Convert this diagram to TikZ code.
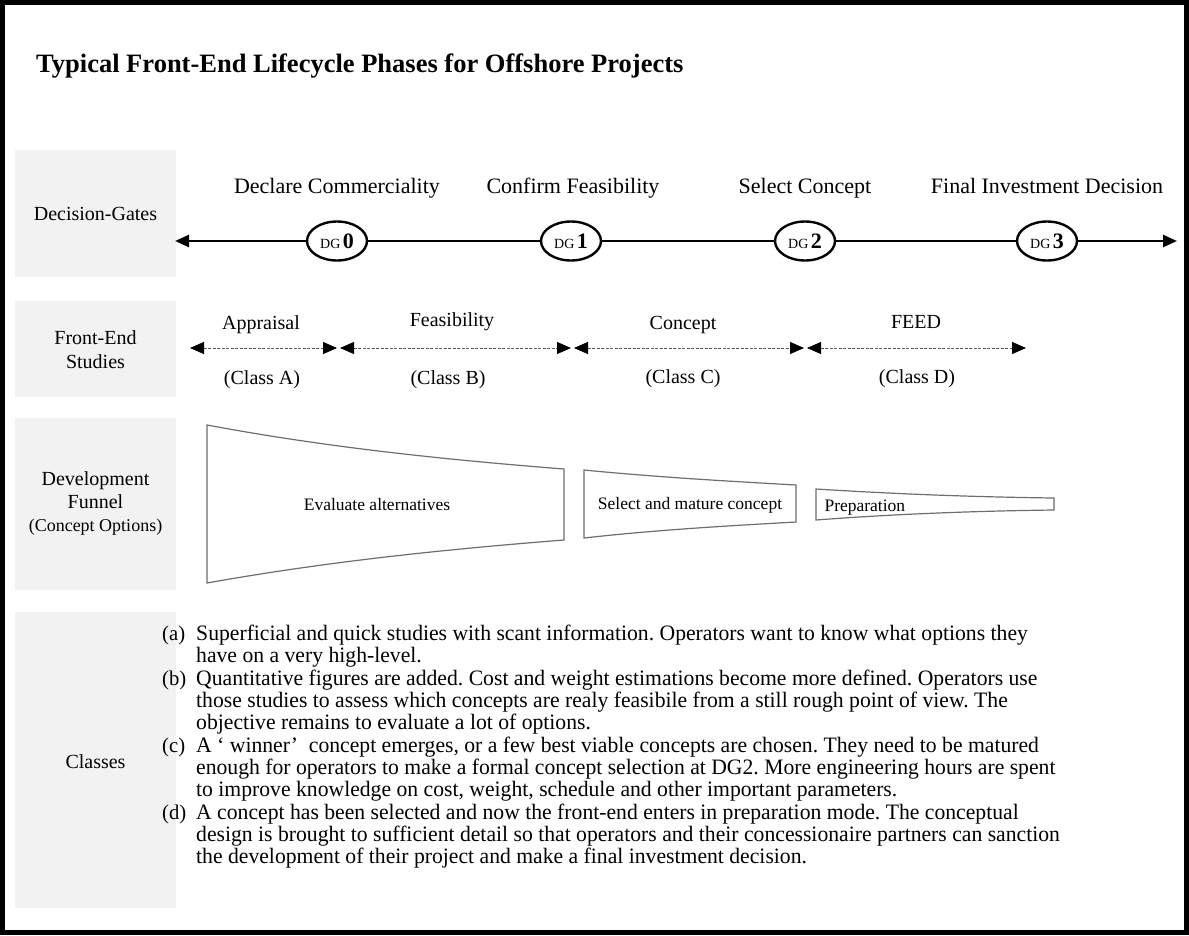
\documentclass[tikz,border=0pt]{standalone}
\usepackage{fontspec}
\setmainfont{Liberation Serif}
\newfontfamily\listfont[FakeStretch=0.985]{Liberation Serif}
\usetikzlibrary{arrows.meta,shapes.geometric}
\definecolor{boxgray}{HTML}{F2F2F2}
\definecolor{funnelgray}{HTML}{6E6E6E}
\definecolor{dashgray}{HTML}{555555}
\frenchspacing
\begin{document}
\begin{tikzpicture}[x=1pt,y=-1pt,
  rowbox/.style={fill=boxgray,draw=none},
  rowlabel/.style={font=\fontsize{20}{24}\selectfont,align=center},
  gate/.style={ellipse,draw,line width=2.4pt,fill=white,minimum width=60pt,minimum height=39pt,inner sep=0pt},
  gatetitle/.style={font=\fontsize{22}{26}\selectfont,anchor=base},
  gateline/.style={line width=2.6pt,{Triangle[length=14pt,width=12pt]}-{Triangle[length=14pt,width=12pt]}},
  studyline/.style={draw=dashgray,line width=0.9pt,dash pattern=on 3pt off 1.5pt,
    {Triangle[length=14pt,width=12pt,color=black]}-{Triangle[length=14pt,width=12pt,color=black]}},
  studylabel/.style={font=\fontsize{20}{24}\selectfont,anchor=base},
  funnel/.style={draw=funnelgray,line width=1.2pt,line join=miter},
  funneltext/.style={font=\fontsize{17.5}{21}\selectfont},
  itemlabel/.style={font=\listfont\fontsize{21}{22.3}\selectfont,anchor=base west,inner sep=0pt},
  itemtext/.style={font=\listfont\fontsize{22}{22.3}\selectfont,anchor=base west,inner sep=0pt}]
\useasboundingbox (0,0) rectangle (1189,935);
\fill[white] (0,0) rectangle (1189,935);
\draw[line width=5pt] (2.5,2.5) rectangle (1186.5,932.5);

% title
\node[anchor=base west,inner sep=0pt,font=\bfseries\fontsize{26.5}{30}\selectfont] (title) at (36,72)
  {Typical Front-End Lifecycle Phases for Offshore Projects};

% row header boxes
\fill[rowbox] (15,150) rectangle (176,277);
\fill[rowbox] (15,301) rectangle (176,397);
\fill[rowbox] (15,418) rectangle (176,590);
\fill[rowbox] (15,612) rectangle (176,908);
\node[rowlabel] (hgates) at (95.5,214) {Decision-Gates};
\node[rowlabel] (hstudies) at (95.5,350) {Front-End\\Studies};
\node[rowlabel,font=\fontsize{20}{23}\selectfont] (hfunnel) at (95.5,503)
  {Development\\Funnel\\{\fontsize{18}{21}\selectfont(Concept Options)}};
\node[rowlabel] (hclasses) at (95.5,762) {Classes};

% decision gates
\coordinate (gL) at (175,241);
\coordinate (gR) at (1177,241);
\draw[gateline] (gL) -- (gR);
\node[gate] (g0) at (337,241) {\fontsize{14}{14}\selectfont DG\,\fontsize{22}{22}\selectfont\bfseries 0};
\node[gate] (g1) at (571,241) {\fontsize{14}{14}\selectfont DG\,\fontsize{22}{22}\selectfont\bfseries 1};
\node[gate] (g2) at (805,241) {\fontsize{14}{14}\selectfont DG\,\fontsize{22}{22}\selectfont\bfseries 2};
\node[gate] (g3) at (1047,241) {\fontsize{14}{14}\selectfont DG\,\fontsize{22}{22}\selectfont\bfseries 3};
\node[gatetitle] (t0) at (337,193) {Declare Commerciality};
\node[gatetitle] (t1) at (573,193) {Confirm Feasibility};
\node[gatetitle] (t2) at (805,193) {Select Concept};
\node[gatetitle] (t3) at (1047,193) {Final Investment Decision};

% front-end studies
\coordinate (s0) at (190,348);
\coordinate (s1a) at (337,348);
\coordinate (s1b) at (340,348);
\coordinate (s2a) at (571,348);
\coordinate (s2b) at (574,348);
\coordinate (s3a) at (804,348);
\coordinate (s3b) at (807,348);
\coordinate (s4) at (1026,348);
\draw[studyline] (s0) -- (s1a);
\draw[studyline] (s1b) -- (s2a);
\draw[studyline] (s2b) -- (s3a);
\draw[studyline] (s3b) -- (s4);
\node[studylabel] (pa) at (261,329) {Appraisal};
\node[studylabel] (pb) at (452,326) {Feasibility};
\node[studylabel] (pc) at (683,329) {Concept};
\node[studylabel] (pd) at (916,328) {FEED};
\node[studylabel] (ca) at (262,384) {(Class A)};
\node[studylabel] (cb) at (448,384) {(Class B)};
\node[studylabel] (cc) at (683,383) {(Class C)};
\node[studylabel] (cd) at (917,383) {(Class D)};

% development funnel
\draw[funnel] (207,425) .. controls (330,448) and (450,460) .. (564,469)
  -- (564,540) .. controls (450,549) and (330,561) .. (207,583) -- cycle;
\draw[funnel] (584,470) .. controls (655,477) and (725,481) .. (796,485)
  -- (796,522) .. controls (725,526) and (655,530) .. (584,538) -- cycle;
\draw[funnel] (816,489) .. controls (895,494) and (975,497) .. (1054,498)
  -- (1054,510) .. controls (975,511) and (895,514) .. (816,520) -- cycle;
\node[funneltext] (f1) at (377,505) {Evaluate alternatives};
\node[funneltext] (f2) at (690,505) {Select and mature concept};
\node[funneltext,anchor=base west] (f3) at (821,511) {Preparation};

% classes
\node[itemlabel] (la) at (162,640) {(a)};
\node[itemtext] (ia) at (196,640) {\parbox[t]{960pt}{\raggedright
  Superficial and quick studies with scant information. Operators want to know what options they\\
  have on a very high-level.}};
\node[itemlabel] (lb) at (162,685) {(b)};
\node[itemtext] (ib) at (196,685) {\parbox[t]{960pt}{\raggedright
  Quantitative figures are added. Cost and weight estimations become more defined. Operators use\\
  those studies to assess which concepts are realy feasibile from a still rough point of view. The\\
  objective remains to evaluate a lot of options.}};
\node[itemlabel] (lc) at (162,752) {(c)};
\node[itemtext] (ic) at (196,752) {\parbox[t]{960pt}{\raggedright
  A ‘ winner’\ \ concept emerges, or a few best viable concepts are chosen. They need to be matured\\
  enough for operators to make a formal concept selection at DG2. More engineering hours are spent\\
  to improve knowledge on cost, weight, schedule and other important parameters.}};
\node[itemlabel] (ld) at (162,819) {(d)};
\node[itemtext] (id) at (196,819) {\parbox[t]{960pt}{\raggedright
  A concept has been selected and now the front-end enters in preparation mode. The conceptual\\
  design is brought to sufficient detail so that operators and their concessionaire partners can sanction\\
  the development of their project and make a final investment decision.}};
\end{tikzpicture}
\end{document}
